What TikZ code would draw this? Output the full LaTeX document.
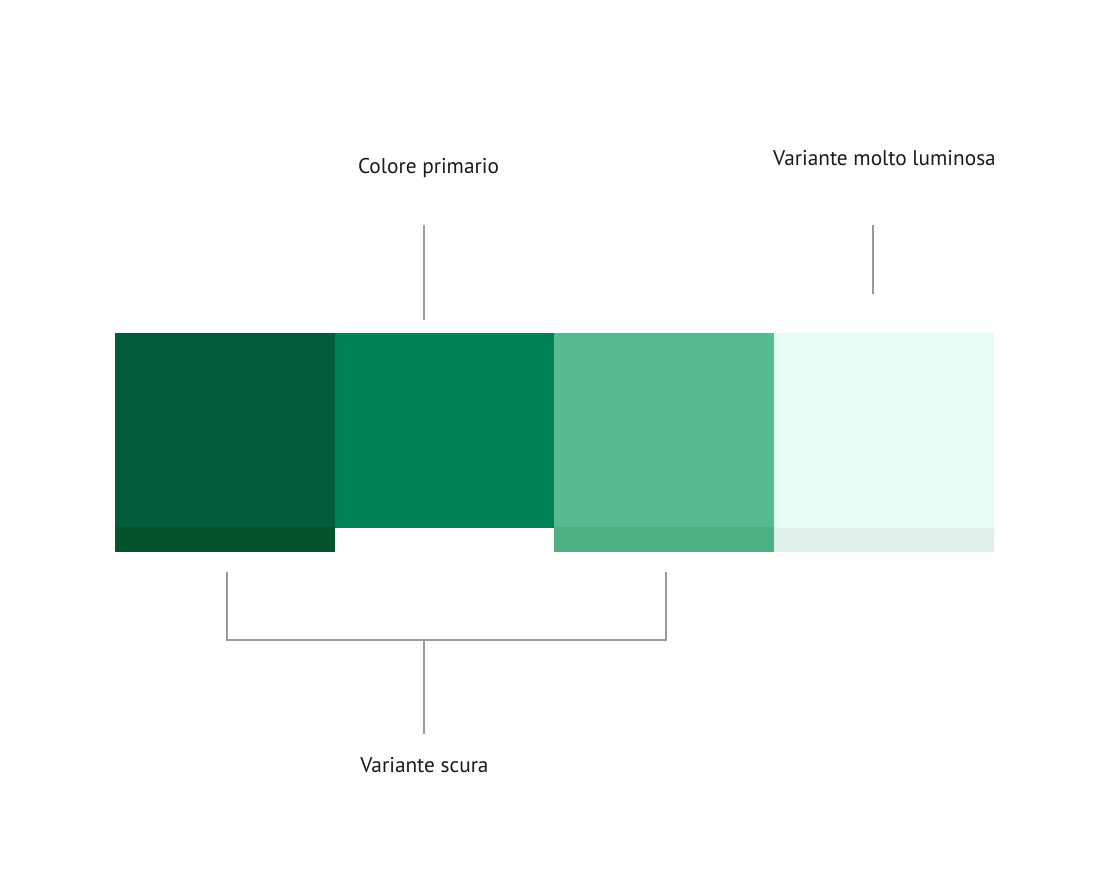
\documentclass[tikz,border=0pt]{standalone}
\usepackage{fontspec}
\setmainfont{PT Sans}
\definecolor{c1}{HTML}{025E3A}
\definecolor{c1s}{HTML}{03532D}
\definecolor{c2}{HTML}{008255}
\definecolor{c3}{HTML}{56BC8F}
\definecolor{c3s}{HTML}{4BB182}
\definecolor{c4}{HTML}{E5FDF4}
\definecolor{c4s}{HTML}{E0F0EA}
\definecolor{linegray}{HTML}{9A9A9A}
\definecolor{txt}{HTML}{1A1A1A}
\begin{document}
\begin{tikzpicture}[x=1pt,y=-1pt,
  swatch/.style={rectangle,inner sep=0pt,outer sep=0pt,anchor=north west,draw=none},
  leader/.style={draw=linegray,line width=1.4pt},
  lbl/.style={inner sep=0pt,text=txt,font=\fontsize{21.3}{24}\selectfont}]
\useasboundingbox (0,0) rectangle (1106,872);
\fill[white] (0,0) rectangle (1106,872);
% swatches
\node[swatch,fill=c1,minimum width=220pt,minimum height=194pt] (s1) at (115,333) {};
\node[swatch,fill=c1s,minimum width=220pt,minimum height=25pt] (s1b) at (115,527) {};
\node[swatch,fill=c2,minimum width=219pt,minimum height=195pt] (s2) at (335,333) {};
\node[swatch,fill=c3,minimum width=220pt,minimum height=194pt] (s3) at (554,333) {};
\node[swatch,fill=c3s,minimum width=220pt,minimum height=25pt] (s3b) at (554,527) {};
\node[swatch,fill=c4,minimum width=220pt,minimum height=195pt] (s4) at (774,333) {};
\node[swatch,fill=c4s,minimum width=220pt,minimum height=24pt] (s4b) at (774,528) {};
% labels
\node[lbl] (lp) at (428.5,168) {Colore primario};
\node[lbl] (ll) at (884.5,158) {Variante molto luminosa};
\node[lbl] (ld) at (424.5,765) {Variante scura};
% leader lines
\coordinate (p1) at (424,225); \coordinate (p2) at (424,320);
\draw[leader] (p1) -- (p2);
\coordinate (q1) at (873,225); \coordinate (q2) at (873,294);
\draw[leader] (q1) -- (q2);
\coordinate (b1) at (227,572); \coordinate (b2) at (666,572);
\coordinate (m) at (424,640); \coordinate (m2) at (424,734);
\draw[leader] (b1) |- (m) -| (b2);
\draw[leader] (m) -- (m2);
\end{tikzpicture}
\end{document}
